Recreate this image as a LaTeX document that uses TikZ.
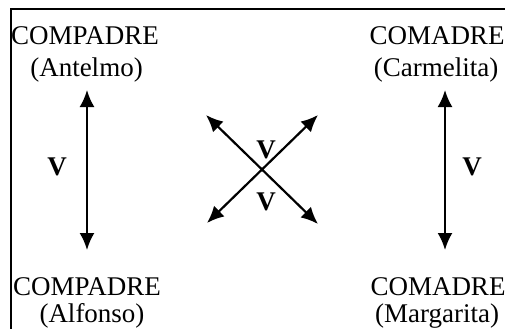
\documentclass[tikz,border=0pt]{standalone}
\usepackage{fontspec}
\setmainfont{Liberation Serif}
\usetikzlibrary{arrows.meta}
\begin{document}
\begin{tikzpicture}[x=1pt,y=-1pt,
  lbl/.style={inner sep=0pt,anchor=base,font=\fontsize{27}{31}\selectfont},
  vlbl/.style={inner sep=0pt,anchor=center,font=\fontsize{27}{31}\selectfont\bfseries},
  biarrow/.style={line width=2.2pt,{Latex[length=17pt,width=15pt]}-{Latex[length=17pt,width=15pt]}},
  frame/.style={line width=2.2pt}]
\useasboundingbox (0,0) rectangle (505,329);
\draw[frame] (505,9) -- (11,9) -- (11,329);
% labels
\node[lbl] (cpA) at (85,45) {COMPADRE};
\node[lbl] (antelmo) at (86.5,76) {(Antelmo)};
\node[lbl] (cpB) at (87,295) {COMPADRE};
\node[lbl] (alfonso) at (92,322) {(Alfonso)};
\node[lbl] (cmA) at (437,45) {COMADRE};
\node[lbl] (carmelita) at (436,76) {(Carmelita)};
\node[lbl] (cmB) at (438,295) {COMADRE};
\node[lbl] (margarita) at (437,322) {(Margarita)};
% arrow end points
\coordinate (l1) at (87,90);
\coordinate (l2) at (87,250);
\coordinate (r1) at (445,90);
\coordinate (r2) at (445,250);
\coordinate (nw) at (206,115);
\coordinate (se) at (318,224);
\coordinate (ne) at (318,115);
\coordinate (sw) at (207,223);
\draw[biarrow] (l1) -- (l2);
\draw[biarrow] (r1) -- (r2);
\draw[biarrow] (nw) -- (se);
\draw[biarrow] (ne) -- (sw);
% V labels
\node[vlbl] (vL) at (57,167) {V};
\node[vlbl] (vR) at (472,167) {V};
\node[vlbl] (vT) at (266,150) {V};
\node[vlbl] (vB) at (266,202) {V};
\end{tikzpicture}
\end{document}
